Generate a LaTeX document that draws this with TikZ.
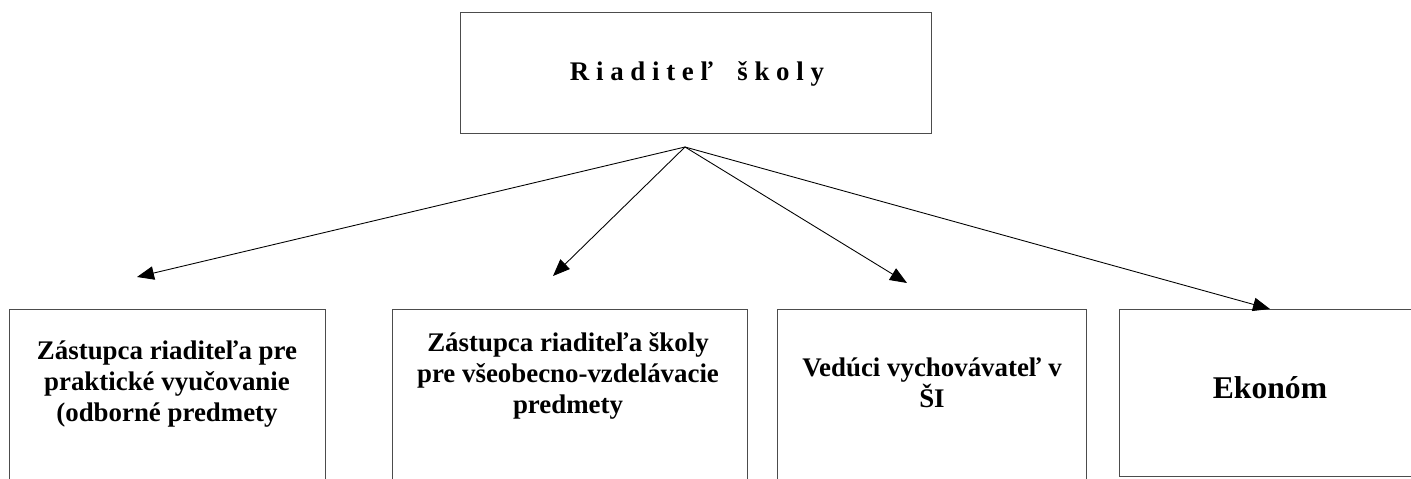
\documentclass[tikz,border=0pt]{standalone}
\usepackage{fontspec}
\setmainfont{Liberation Serif}
\usepackage{tikz}
\usetikzlibrary{arrows.meta}

\begin{document}
\begin{tikzpicture}[x=0.02cm,y=-0.02cm,
  box/.style={draw=black!70,line width=0.6pt,anchor=north west,inner sep=0pt},
  boxtext/.style={align=center,font=\fontsize{15.3}{17.5}\selectfont\bfseries},
  arr/.style={-{Triangle[length=0.34cm,width=0.27cm]},line width=0.5pt}]
\useasboundingbox (0,0) rectangle (1411,479);
\clip (0,0) rectangle (1411,479);
%top box
\node[box,minimum width=9.42cm,minimum height=2.42cm] (dir) at (460,12) {};
\node[boxtext] (dirtext) at (697,74) {R i a d i t e ľ\hspace{0.9em}š k o l y};
%lower boxes
\node[box,minimum width=6.32cm,minimum height=4cm] (b1) at (9,309) {};
\node[box,minimum width=7.10cm,minimum height=4cm] (b2) at (392,309) {};
\node[box,minimum width=6.18cm,minimum height=4cm] (b3) at (777,309) {};
\node[box,minimum width=8cm,minimum height=3.34cm] (b4) at (1119,309) {};
\node[boxtext] (t1) at (167,384) {Zástupca riaditeľa pre\\praktické vyučovanie\\(odborné predmety};
\node[boxtext] (t2) at (568,376) {Zástupca riaditeľa školy\\pre všeobecno-vzdelávacie\\predmety};
\node[boxtext] (t3) at (932,383) {Vedúci vychovávateľ v\\ŠI};
\node[boxtext,font=\fontsize{18}{21}\selectfont\bfseries] (t4) at (1270,388) {Ekonóm};
%arrows
\coordinate (fork) at (685,147);
\coordinate (tip1) at (137,277);
\coordinate (tip2) at (553,276);
\coordinate (tip3) at (907,283);
\coordinate (tip4) at (1270,309);
\draw[arr] (fork) -- (tip1);
\draw[arr] (fork) -- (tip2);
\draw[arr] (fork) -- (tip3);
\draw[arr] (fork) -- (tip4);
\end{tikzpicture}
\end{document}
